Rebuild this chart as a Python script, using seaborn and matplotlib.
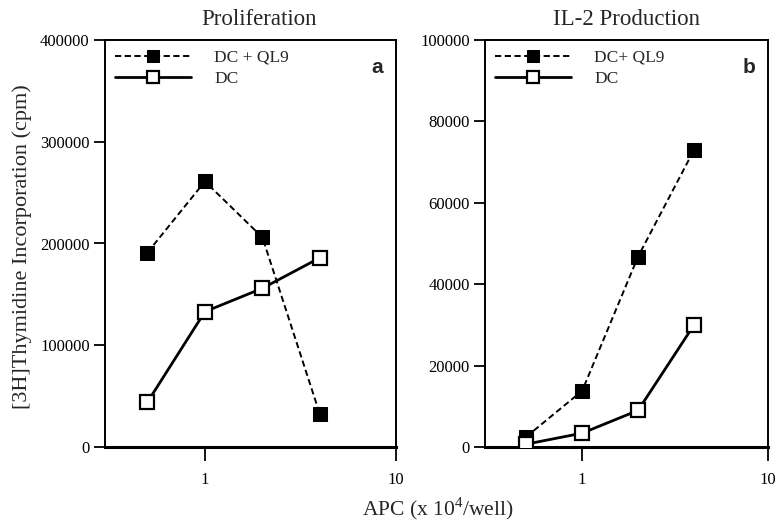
import numpy as np
import pandas as pd
import matplotlib
matplotlib.use("Agg")
import matplotlib.pyplot as plt
import seaborn as sns

# ---- data ----
apc = [0.5, 1, 2, 4]
prolif_dc_ql9 = [191000, 261000, 206000, 32000]
prolif_dc = [44000, 133000, 156000, 186000]
il2_dc_ql9 = [2500, 13800, 46800, 73000]
il2_dc = [700, 3400, 9000, 30000]

prolif_yticks = [0, 100000, 200000, 300000, 400000]
il2_yticks = [0, 20000, 40000, 60000, 80000, 100000]
x_ticks = [1, 10]
x_ticklabels = ["1", "10"]

sns.set_style("ticks")
plt.rcParams['font.family'] = ['Liberation Serif', 'DejaVu Serif']
plt.rcParams['mathtext.fontset'] = 'custom'
plt.rcParams['mathtext.rm'] = 'Liberation Serif'

fig = plt.figure(figsize=(7.75, 5.22), dpi=100)
axA = fig.add_axes([105/775, 75/522, 291/775, 407/522])
axB = fig.add_axes([485/775, 75/522, 283/775, 407/522])


def draw(ax, y_q, y_d, label_q, yticks, ymax, title, title_x, letter):
    sns.lineplot(x=apc, y=y_q, ax=ax, color='black', linestyle=(0, (3.2, 1.8)),
                 linewidth=1.4, marker='s', markersize=9.5, markerfacecolor='black',
                 markeredgecolor='black', label=label_q, zorder=3)
    sns.lineplot(x=apc, y=y_d, ax=ax, color='black', linestyle='-',
                 linewidth=2.0, marker='s', markersize=9.5, markerfacecolor='white',
                 markeredgecolor='black', markeredgewidth=1.6, label='DC', zorder=4)
    ax.set_xscale('log')
    ax.set_xlim(0.3, 10)
    ax.set_ylim(0, ymax)
    ax.set_xticks(x_ticks)
    ax.set_xticklabels(x_ticklabels)
    ax.xaxis.set_minor_locator(matplotlib.ticker.NullLocator())
    ax.set_yticks(yticks)
    ax.set_yticklabels([str(v) for v in yticks])
    ax.tick_params(axis='both', direction='out', length=8, width=1.3,
                   labelsize=12, colors='black')
    ax.tick_params(axis='x', length=10, pad=8)
    ax.tick_params(axis='y', pad=3)
    for side in ['left', 'right', 'top', 'bottom']:
        ax.spines[side].set_visible(True)
        ax.spines[side].set_linewidth(1.4)
        ax.spines[side].set_color('black')
    ax.spines['bottom'].set_linewidth(2.2)
    ax.set_xlabel('')
    ax.set_ylabel('')
    ax.text(title_x, 1.037, title, transform=ax.transAxes, ha='center',
            va='baseline', fontsize=16.5)
    ax.text(0.955, 0.955, letter, transform=ax.transAxes, ha='right', va='top',
            fontsize=15, fontweight='bold', family='Liberation Sans')
    leg = ax.legend(loc='upper left', bbox_to_anchor=(0.0, 1.0), frameon=False,
                    handlelength=4.4, handletextpad=1.35, labelspacing=0.3,
                    borderaxespad=0.2, borderpad=0.35, fontsize=12.5)
    for h in leg.legend_handles:
        h.set_markersize(8)
    return leg


draw(axA, prolif_dc_ql9, prolif_dc, 'DC + QL9', prolif_yticks, 400000,
     'Proliferation', 0.53, 'a')
draw(axB, il2_dc_ql9, il2_dc, 'DC+ QL9', il2_yticks, 100000,
     'IL-2 Production', 0.5, 'b')

fig.text(22/775, 1 - 247/522, '[3H]Thymidine Incorporation (cpm)', rotation=90,
         ha='center', va='center', fontsize=16)
fig.text(438/775, 1 - 509/522, r'APC (x 10$^4$/well)', ha='center', va='center',
         fontsize=15.5)

fig.savefig('out.png', dpi=100)
